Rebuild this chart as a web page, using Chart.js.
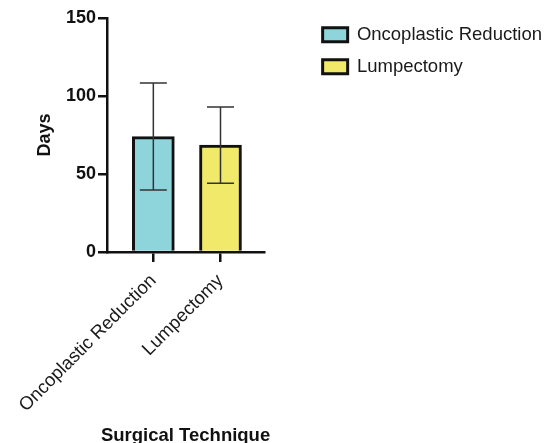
<!DOCTYPE html>
<html>
<head>
<meta charset="utf-8">
<title>Days by surgical technique</title>
<script src="https://cdn.jsdelivr.net/npm/chart.js@4.4.1/dist/chart.umd.min.js"></script>
<style>
  body { margin: 0; background: #fff; }
  #wrap { width: 546px; height: 443px; }
</style>
</head>
<body>
<div id="wrap"><canvas id="daysChart" width="546" height="443"></canvas></div>
<script>
// Values (mean +/- SD, days)
const categories = ['Oncoplastic Reduction', 'Lumpectomy'];
const meanDays = [74, 68.5];
const sdDays = [34.3, 24.5];
const yTicks = [0, 50, 100, 150];
const barColors = ['#8dd5db', '#f1e96a'];
const xTitle = 'Surgical Technique';

const FONT = "'Liberation Sans', Arial, Helvetica, sans-serif";

// Whiskers for the SD, drawn on top of the bars
const errorBars = {
    id: 'errorBars',
    afterDatasetsDraw(chart) {
        const ctx = chart.ctx;
        const y = chart.scales.y;
        const half = 13.5;
        ctx.save();
        ctx.strokeStyle = '#333';
        ctx.lineWidth = 1.5;
        categories.forEach((c, i) => {
            const bar = chart.getDatasetMeta(i).data[0];
            if (!bar) return;
            const top = y.getPixelForValue(meanDays[i] + sdDays[i]);
            const bottom = y.getPixelForValue(meanDays[i] - sdDays[i]);
            ctx.beginPath();
            ctx.moveTo(bar.x, top);
            ctx.lineTo(bar.x, bottom);
            ctx.moveTo(bar.x - half, top);
            ctx.lineTo(bar.x + half, top);
            ctx.moveTo(bar.x - half, bottom);
            ctx.lineTo(bar.x + half, bottom);
            ctx.stroke();
        });
        ctx.restore();
    }
};

// x title drawn by hand: the built-in one gets squeezed to the plot width
const xAxisTitle = {
    id: 'xAxisTitle',
    afterDraw(chart) {
        const ctx = chart.ctx;
        const area = chart.chartArea;
        ctx.save();
        ctx.font = 'bold 18.5px ' + FONT;
        ctx.fillStyle = '#111';
        ctx.textAlign = 'center';
        ctx.textBaseline = 'alphabetic';
        ctx.fillText(xTitle, (area.left + area.right) / 2, chart.height - 2);
        ctx.restore();
    }
};

const ctx = document.getElementById('daysChart');
new Chart(ctx, {
    type: 'bar',
    data: {
        datasets: categories.map((c, i) => ({
            label: c,
            data: [{ x: i + 1, y: meanDays[i] }],
            backgroundColor: barColors[i],
            borderColor: '#111',
            borderWidth: 3,
            borderSkipped: 'start',
            barThickness: 42,
            grouped: false
        }))
    },
    options: {
        responsive: false,
        animation: false,
        layout: { padding: { top: 12, right: -6, bottom: 0, left: 0 } },
        plugins: {
            legend: {
                position: 'right',
                align: 'start',
                maxWidth: 300,
                labels: {
                    boxWidth: 25,
                    boxHeight: 14,
                    padding: 13.5,
                    color: '#1a1a1a',
                    font: { family: FONT, size: 18.5 }
                }
            },
            tooltip: { enabled: false }
        },
        scales: {
            x: {
                type: 'linear',
                min: 0.31,
                max: 2.65,
                offset: false,
                afterBuildTicks: s => { s.ticks = categories.map((c, i) => ({ value: i + 1 })); },
                afterFit: s => { s.height = 191; s.paddingLeft = 0; s.paddingRight = 0; },
                grid: { offset: false, drawOnChartArea: false, tickLength: 10, color: '#111', lineWidth: 2.5 },
                border: { color: '#111', width: 2.5 },
                ticks: {
                    autoSkip: false,
                    maxRotation: 45,
                    minRotation: 45,
                    padding: 8,
                    color: '#1a1a1a',
                    font: { family: FONT, size: 18.5 },
                    callback: v => categories[v - 1]
                },
                title: { display: false }
            },
            y: {
                min: 0,
                max: 150,
                afterBuildTicks: s => { s.ticks = yTicks.map(v => ({ value: v })); },
                afterFit: s => { s.width = 107; s.paddingTop = 18; },
                grid: { drawOnChartArea: false, tickLength: 9, color: '#111', lineWidth: 2.5 },
                border: { color: '#111', width: 2.5 },
                ticks: {
                    padding: 2,
                    color: '#111',
                    font: { family: FONT, size: 18, weight: 'bold' }
                },
                title: {
                    display: true,
                    text: 'Days',
                    color: '#111',
                    font: { family: FONT, size: 18, weight: 'bold', lineHeight: 1 },
                    padding: { top: 36, bottom: 0 }
                }
            },
            // empty axis that keeps the gap between plot and legend
            gap: {
                type: 'linear',
                position: 'right',
                grid: { display: false },
                border: { display: false },
                ticks: { display: false },
                afterFit: s => { s.width = 45; }
            }
        }
    },
    plugins: [errorBars, xAxisTitle]
});
</script>
</body>
</html>
